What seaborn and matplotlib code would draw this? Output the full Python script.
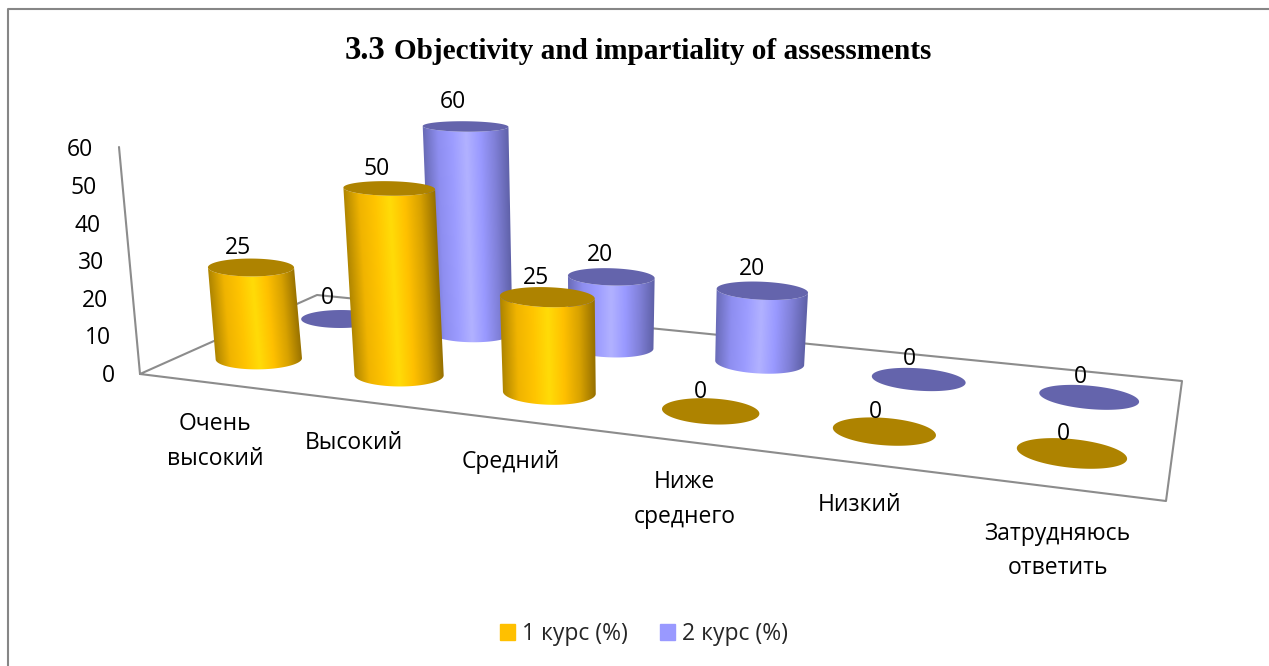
import numpy as np
import matplotlib
matplotlib.use('Agg')
import matplotlib.pyplot as plt
from matplotlib.patches import Patch, Polygon
from matplotlib.colors import LinearSegmentedColormap
import seaborn as sns

# data
categories = ['Очень\nвысокий', 'Высокий', 'Средний', 'Ниже\nсреднего', 'Низкий', 'Затрудняюсь\nответить']
kurs_1 = [25, 50, 25, 0, 0, 0]
kurs_2 = [0, 60, 20, 20, 0, 0]
series_names = ['1 курс (%)', '2 курс (%)']
axis_ticks = [0, 10, 20, 30, 40, 50, 60]

sns.set_theme(style='white')
plt.rcParams['font.family'] = ['Open Sans', 'DejaVu Sans']
FS = 16.5

fig = plt.figure(figsize=(12.69, 6.66), dpi=100)
ax = fig.add_axes([0, 0, 1, 1])

# floor of the 3d box: front left, front right, back right, back left
corners = np.array([[140, 374], [1166, 501], [1182, 381], [317, 295]], dtype=float)
square = [(0, 0), (1, 0), (1, 1), (0, 1)]
rows, rhs = [], []
for (a, b), (px, py) in zip(square, corners):
    rows.append([a, b, 1, 0, 0, 0, -a * px, -b * px])
    rows.append([0, 0, 0, a, b, 1, -a * py, -b * py])
    rhs += [px, py]
H = np.append(np.linalg.solve(np.array(rows), np.array(rhs)), 1).reshape(3, 3)


def floor(u, v):
    w = H[2, 0] * u + H[2, 1] * v + H[2, 2]
    return (H[0, 0] * u + H[0, 1] * v + H[0, 2]) / w, (H[1, 0] * u + H[1, 1] * v + H[1, 2]) / w


def project(u, v, z, uc=None, vc=None):
    uc = u if uc is None else uc
    vc = v if vc is None else vc
    x, y = floor(u, v)
    scale = 3.76 + 0.5 * uc - 0.6 * vc
    lean = -0.33 + 0.7 * uc + 0.2 * (vc - 0.5)
    return x + lean * z, y - scale * z


theta = np.linspace(0, 2 * np.pi, 360, endpoint=False)
RU, RV = 0.047, 0.11
DEPTH = [0.26, 0.75]


def ring(uc, vc, z):
    u = uc + RU * (1 + 0.0018 * z) * np.cos(theta)
    v = vc + RV * (1 - 0.008 * z) * np.sin(theta)
    x, y = project(u, v, z, uc, vc)
    # tall tops sit flatter than the floor ellipses
    return x, y - 0.0012 * z * (x - x.mean())


gold = sns.blend_palette(['#b08600', '#f0b400', '#ffc400', '#ffdc08', '#ffc000', '#d8a200', '#967000'], n_colors=128)
blue = sns.blend_palette(['#6a6cb8', '#8e8ef0', '#9c9cff', '#b2b2ff', '#9999ff', '#8080d8', '#5f61a8'], n_colors=128)
cmaps = [LinearSegmentedColormap.from_list('gold', gold), LinearSegmentedColormap.from_list('blue', blue)]
tops = ['#ae8300', '#6464ac']
solids = ['#ffc000', '#9999ff']


def front_arc(x):
    left, right = np.argmin(x), np.argmax(x)
    steps = (right - left) % len(theta)
    return (left + np.arange(steps + 1)) % len(theta)


def cylinder(cat, s, value):
    uc = (cat + 0.5) / len(categories)
    vc = DEPTH[s]
    bx, by = ring(uc, vc, 0)
    tx, ty = ring(uc, vc, value)
    if value > 0:
        ab, at = front_arc(bx), front_arc(tx)
        outline = np.column_stack([np.r_[bx[ab], tx[at][::-1]], np.r_[by[ab], ty[at][::-1]]])
        x0, x1 = outline[:, 0].min() - 1, outline[:, 0].max() + 1
        y0, y1 = outline[:, 1].min() - 1, outline[:, 1].max() + 1
        # shading runs across the cylinder at every height, so it follows the lean
        gx, gy = np.meshgrid(np.linspace(x0, x1, 200), np.linspace(y0, y1, 200))
        f = (gy - by[ab[0]]) / (ty[at[0]] - by[ab[0]])
        edge_l = bx.min() + f * (tx.min() - bx.min())
        edge_r = bx.max() + f * (tx.max() - bx.max())
        shade = np.clip((gx - edge_l) / (edge_r - edge_l), 0, 1)
        im = ax.imshow(shade, cmap=cmaps[s], extent=[x0, x1, y1, y0], aspect='auto', zorder=3,
                       vmin=0, vmax=1, interpolation='bilinear')
        clip = Polygon(outline, closed=True, transform=ax.transData)
        im.set_clip_path(clip)
    ax.fill(tx, ty, color=tops[s], lw=0, zorder=3)
    cx, cy = project(uc, vc, value)
    ax.text(cx - 13 + cat, cy - 19 - 1.5 * s - 0.06 * value * s, str(value),
            fontsize=FS, ha='center', va='center', color='black', zorder=6)


# chart frame
ax.plot([8, 8, 1269], [666, 9, 9], color='#868686', lw=1.5, zorder=1)

# floor and value axis
line = dict(color='#8c8c8c', lw=1.5, zorder=1)
ax.plot(*np.append(corners, corners[:1], axis=0).T, **line)
ax.plot([corners[0, 0], corners[0, 0] - 21], [corners[0, 1], 147], **line)

for tick in axis_ticks:
    x, y = project(0.0, 0.0, tick)
    ax.text(corners[0, 0] - 25 - 0.36 * tick, y + 2, str(tick), fontsize=FS, ha='right', va='center', color='black')

# back row first, front row over it
for s, values in reversed(list(enumerate([kurs_1, kurs_2]))):
    for cat, value in enumerate(values):
        cylinder(cat, s, value)

# category labels
label_dx = [6, -1, -1, 4, -3, -3]
label_dy = [59, 42, 42, 59, 42, 63]
for cat, name in enumerate(categories):
    x, y = floor((cat + 0.5) / len(categories), 0.0)
    ax.text(x + label_dx[cat], y + label_dy[cat], name, fontsize=FS, ha='center', va='center',
            color='black', linespacing=1.6, zorder=6)

ax.set_xlim(0, 1269)
ax.set_ylim(666, 0)
ax.axis('off')

# title in two sizes, on one baseline
t1 = ax.text(345, 59, '3.3', fontsize=23.5, fontweight='bold', family='Liberation Serif', color='black', va='baseline')
renderer = fig.canvas.get_renderer()
end_x = t1.get_window_extent(renderer).x1
ax.text(end_x + 8, 59, 'Objectivity and impartiality of assessments', fontsize=21.1, fontweight='bold',
        family='Liberation Serif', color='black', va='baseline')

handles = [Patch(color=c, label=n) for c, n in zip(solids, series_names)]
ax.legend(handles=handles, loc='center', bbox_to_anchor=(644, 634), bbox_transform=ax.transData, ncol=2,
          frameon=False, fontsize=FS, handlelength=0.65, handleheight=0.65, handletextpad=0.3,
          columnspacing=1.4, borderpad=0)

fig.savefig('out.png', dpi=100, facecolor='white')
